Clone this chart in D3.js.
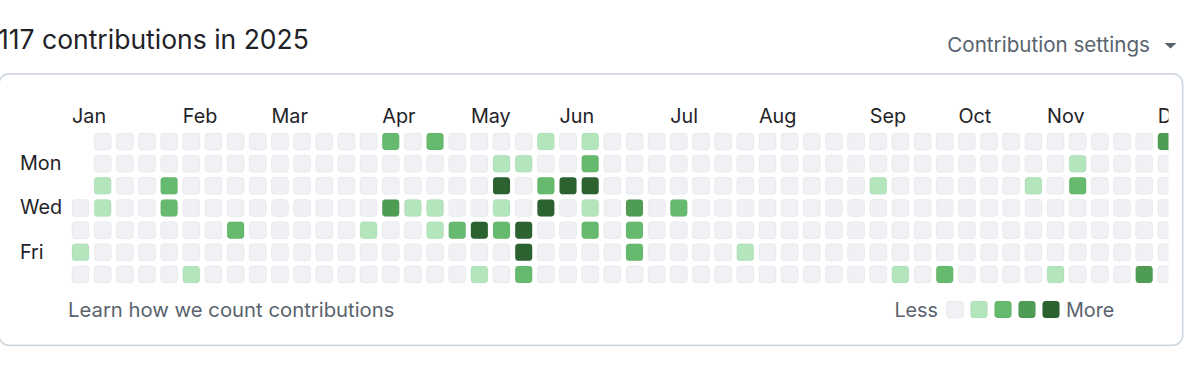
<!DOCTYPE html>
<html>
<head>
<meta charset="utf-8">
<script src="https://cdn.jsdelivr.net/npm/d3@7"></script>
<style>
  html, body { margin: 0; padding: 0; background: #fff; overflow: hidden; }
  svg { display: block; font-family: Inter, "Noto Sans", "Liberation Sans", sans-serif; }
</style>
</head>
<body>
<svg id="chart" width="1200" height="374"></svg>
<script>
// Datos del calendario de contribuciones
const year = 2025;
const totalContributions = 117;
const monthNames = ["Jan", "Feb", "Mar", "Apr", "May", "Jun", "Jul", "Aug", "Sep", "Oct", "Nov", "Dec"];
const dayLabels = ["", "Mon", "", "Wed", "", "Fri", ""];
const legendLevels = [0, 1, 2, 3, 4];
const levelColors = ["#eff1f4", "#b3e6bc", "#66ba6d", "#4f9d55", "#2c6230"];

// Días con actividad: [fecha, nivel]
const activeDays = [
    ["2025-01-03", 1], ["2025-01-07", 1], ["2025-01-08", 1], ["2025-01-28", 2], ["2025-01-29", 2],
    ["2025-02-08", 1], ["2025-02-20", 2],
    ["2025-04-03", 1], ["2025-04-06", 2], ["2025-04-09", 3], ["2025-04-16", 1], ["2025-04-20", 2],
    ["2025-04-23", 1], ["2025-04-24", 1],
    ["2025-05-01", 2], ["2025-05-08", 4], ["2025-05-10", 1], ["2025-05-12", 1], ["2025-05-13", 4],
    ["2025-05-14", 1], ["2025-05-15", 2], ["2025-05-19", 1], ["2025-05-22", 4], ["2025-05-23", 4],
    ["2025-05-24", 2], ["2025-05-25", 1], ["2025-05-27", 2], ["2025-05-28", 4],
    ["2025-06-03", 4], ["2025-06-08", 1], ["2025-06-09", 2], ["2025-06-10", 4], ["2025-06-11", 1],
    ["2025-06-12", 2], ["2025-06-25", 3], ["2025-06-26", 2], ["2025-06-27", 2],
    ["2025-07-09", 2], ["2025-08-01", 1],
    ["2025-09-09", 1], ["2025-09-20", 1], ["2025-10-04", 2], ["2025-10-28", 1],
    ["2025-11-08", 1], ["2025-11-10", 1], ["2025-11-11", 2],
    ["2025-12-06", 3], ["2025-12-07", 3]
];

////////////////////////////////////////////////////////////////////////////////
const svg = d3.select("#chart");
const textDark = "#1f2328", textMuted = "#59636e";

const yearStart = new Date(Date.UTC(year, 0, 1));
const yearEnd = new Date(Date.UTC(year + 1, 0, 1));
const days = d3.utcDays(yearStart, yearEnd);
const fmt = d3.utcFormat("%Y-%m-%d");
const levelByDate = new Map(activeDays);
const weekOf = d => d3.utcSunday.count(yearStart, d);

const cellStep = 22.16, cellSize = 17;
const x = d3.scaleLinear().domain([0, 1]).range([72, 72 + cellStep]);
const y = d3.scaleLinear().domain([0, 1]).range([133, 133 + cellStep]);
const color = d3.scaleOrdinal().domain(legendLevels).range(levelColors);

// Encabezado
svg.append("text")
    .attr("x", -2).attr("y", 49)
    .attr("font-size", 26.5).attr("fill", textDark)
    .text(`${totalContributions} contributions in ${year}`);

svg.append("text")
    .attr("x", 1150).attr("y", 52)
    .attr("text-anchor", "end")
    .attr("font-size", 20.6).attr("fill", textMuted)
    .text("Contribution settings");

svg.append("path")
    .attr("d", "M1164.5,43 L1176.5,43 L1170.5,48.5 Z")
    .attr("fill", textMuted);

// Tarjeta
svg.append("rect")
    .attr("x", -1).attr("y", 73.8)
    .attr("width", 1183.7).attr("height", 271.5)
    .attr("rx", 10)
    .attr("fill", "none")
    .attr("stroke", "#d1d9e0")
    .attr("stroke-width", 1.7);

svg.append("clipPath").attr("id", "graph-clip")
    .append("rect").attr("x", 0).attr("y", 80).attr("width", 1168.5).attr("height", 220);

const graph = svg.append("g").attr("clip-path", "url(#graph-clip)");

// Etiquetas de meses: primera columna cuyo primer día visible cae en el mes
const monthStarts = d3.utcMonths(yearStart, yearEnd);
graph.selectAll(".month")
    .data(monthStarts)
    .enter().append("text")
    .attr("class", "month")
    .attr("x", m => {
        const first = d3.utcDays(m, d3.utcMonth.offset(m, 1))
            .find(d => d.getUTCDay() === 0 || +d === +yearStart);
        return x(weekOf(first));
    })
    .attr("y", 123)
    .attr("font-size", 19.8).attr("fill", textDark)
    .text(m => monthNames[m.getUTCMonth()]);

// Celdas
graph.selectAll(".day")
    .data(days)
    .enter().append("rect")
    .attr("class", "day")
    .attr("x", d => x(weekOf(d)))
    .attr("y", d => y(d.getUTCDay()))
    .attr("width", cellSize).attr("height", cellSize)
    .attr("rx", 3.4)
    .attr("fill", d => color(levelByDate.get(fmt(d)) || 0))
    .attr("stroke", "rgba(31,35,40,0.05)")
    .attr("stroke-width", 1);

// Etiquetas de días
svg.selectAll(".wday")
    .data(dayLabels)
    .enter().append("text")
    .attr("class", "wday")
    .attr("x", 20)
    .attr("y", (d, i) => y(i) + cellSize / 2 + 6.5)
    .attr("font-size", 19.8).attr("fill", textDark)
    .text(d => d);

// Pie
svg.append("text")
    .attr("x", 68).attr("y", 316.5)
    .attr("font-size", 20.3).attr("fill", textMuted)
    .text("Learn how we count contributions");

const legendX = d3.scaleLinear().domain([0, 1]).range([946.5, 970.5]);
svg.append("text")
    .attr("x", 938).attr("y", 316.5)
    .attr("text-anchor", "end")
    .attr("font-size", 19.8).attr("fill", textMuted)
    .text("Less");

svg.selectAll(".legend")
    .data(legendLevels)
    .enter().append("rect")
    .attr("class", "legend")
    .attr("x", d => legendX(d))
    .attr("y", 301)
    .attr("width", cellSize).attr("height", cellSize)
    .attr("rx", 3.4)
    .attr("fill", d => color(d))
    .attr("stroke", "rgba(31,35,40,0.05)");

svg.append("text")
    .attr("x", 1066).attr("y", 316.5)
    .attr("font-size", 19.8).attr("fill", textMuted)
    .text("More");
</script>
</body>
</html>
